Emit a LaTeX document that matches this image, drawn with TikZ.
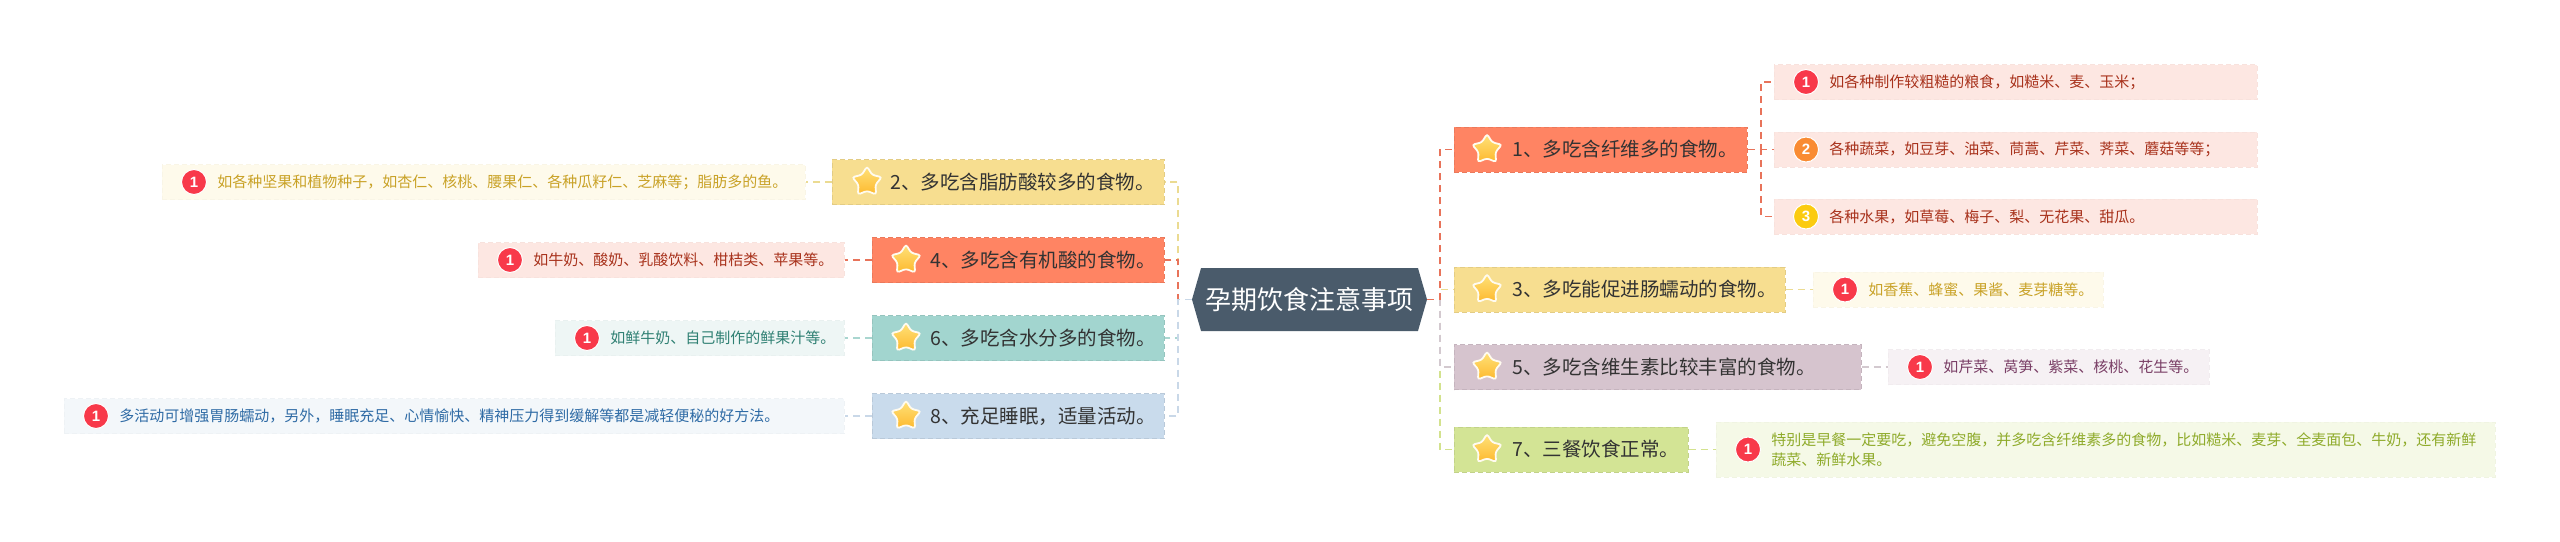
\documentclass[tikz,border=0pt]{standalone}
\usepackage{fontspec}
\setmainfont{Noto Sans CJK SC}
\newfontfamily\numfont{Liberation Sans}
\usepackage{tikz}
\usetikzlibrary{shapes.geometric,shapes.symbols,positioning}
\definecolor{rootslate}{HTML}{4A5B6B}
\definecolor{inkdark}{HTML}{333333}
\definecolor{coral}{HTML}{FF8463}
\definecolor{sand}{HTML}{F7DE90}
\definecolor{mauve}{HTML}{D6C4CE}
\definecolor{lime}{HTML}{D3E495}
\definecolor{teal}{HTML}{A2D5CF}
\definecolor{sky}{HTML}{C9DBEC}
\definecolor{coralline}{HTML}{E8735A}
\definecolor{sandline}{HTML}{EBDB92}
\definecolor{mauveline}{HTML}{D3C9CF}
\definecolor{limeline}{HTML}{D3E28E}
\definecolor{tealline}{HTML}{A9D6D0}
\definecolor{skyline}{HTML}{C9D8E8}
\definecolor{coralleaf}{HTML}{FDE7E2}
\definecolor{sandleaf}{HTML}{FEFAEB}
\definecolor{mauveleaf}{HTML}{F6F1F4}
\definecolor{limeleaf}{HTML}{F5F9E7}
\definecolor{tealleaf}{HTML}{EEF6F5}
\definecolor{skyleaf}{HTML}{F3F7FA}
\definecolor{coraltext}{HTML}{A8321C}
\definecolor{sandtext}{HTML}{C9A227}
\definecolor{mauvetext}{HTML}{7A3F66}
\definecolor{limetext}{HTML}{8FAB2B}
\definecolor{tealtext}{HTML}{2F8073}
\definecolor{skytext}{HTML}{2F6BA5}
\definecolor{badgered}{HTML}{F8394A}
\definecolor{badgeorange}{HTML}{F98B32}
\definecolor{badgeyellow}{HTML}{FBCB10}
\definecolor{startop}{HTML}{FFE27A}
\definecolor{starbottom}{HTML}{FDB92E}
\definecolor{starrim}{HTML}{FFFBEF}

\begin{document}
\begin{tikzpicture}[x=1pt, y=-1pt,
    rootnode/.style={shape=signal, signal to=east and west, signal pointer angle=148,
               fill=rootslate, text=white, inner sep=0pt, minimum width=235pt, minimum height=63pt,
               font=\fontsize{26}{30}\selectfont},
    branch/.style={rectangle, fill=#1, draw=#1!92!black, dash pattern=on 5pt off 3pt, line width=0.8pt, anchor=west,
               minimum height=45pt, inner xsep=0pt, inner ysep=0pt, align=left, text=inkdark,
               font=\fontsize{19.5}{24}\selectfont, execute at begin node={\hspace*{58pt}}},
    leaf/.style={rectangle, fill=#1, draw=#1!98!black, dash pattern=on 5pt off 3pt, line width=0.6pt, anchor=west,
               minimum height=35pt, inner xsep=0pt, inner ysep=0pt, align=left,
               font=\fontsize{15}{20}\selectfont, execute at begin node={\hspace*{55pt}}},
    staricon/.style={star, star points=5, star point ratio=1.75, rounded corners=2.5pt, draw=starrim, line width=1.8pt,
               top color=startop, bottom color=starbottom, minimum size=31pt, inner sep=0pt},
    badge/.style={circle, fill=#1, draw=white, line width=1pt, text=white, minimum size=25pt, inner sep=0pt,
               font=\numfont\bfseries\fontsize{15}{15}\selectfont},
    link/.style={draw=#1, dash pattern=on 7pt off 5pt, line width=1.8pt},
    twig/.style={draw=#1, dash pattern=on 7pt off 5pt, line width=1.2pt}
]
    \useasboundingbox (0,0) rectangle (2560,541);

    \coordinate (trunkL) at (1178,299.5);
    \coordinate (trunkR) at (1440,299.5);
    \coordinate (trunkA) at (1761,149.5);

    % right side
    \node[rootnode] (root) at (1309.5,299.5) {孕期饮食注意事项};
    \node[branch=coral, text width=293pt] (b1) at (1454,149.5) {1、多吃含纤维多的食物。};
    \node[branch=sand, text width=331pt] (b3) at (1454,289.5) {3、多吃能促进肠蠕动的食物。};
    \node[branch=mauve, text width=407pt] (b5) at (1454,367) {5、多吃含维生素比较丰富的食物。};
    \node[branch=lime, text width=234pt] (b7) at (1454,449.5) {7、三餐饮食正常。};

    \node[leaf=coralleaf, text=coraltext, text width=483pt] (l1a) at (1774,82) {如各种制作较粗糙的粮食，如糙米、麦、玉米；};
    \node[leaf=coralleaf, text=coraltext, text width=483pt] (l1b) at (1774,149.5) {各种蔬菜，如豆芽、油菜、茼蒿、芹菜、荠菜、蘑菇等等；};
    \node[leaf=coralleaf, text=coraltext, text width=483pt] (l1c) at (1774,216.5) {各种水果，如草莓、梅子、梨、无花果、甜瓜。};
    \node[leaf=sandleaf, text=sandtext, text width=290pt] (l3) at (1813,289.5) {如香蕉、蜂蜜、果酱、麦芽糖等。};
    \node[leaf=mauveleaf, text=mauvetext, text width=321pt] (l5) at (1888,367) {如芹菜、莴笋、紫菜、核桃、花生等。};
    \node[leaf=limeleaf, text=limetext, text width=779pt, minimum height=55pt] (l7) at (1716,449.5)
        {特别是早餐一定要吃，避免空腹，并多吃含纤维素多的食物，比如糙米、麦芽、全麦面包、牛奶，还有新鲜\\\hspace*{55pt}蔬菜、新鲜水果。};

    % left side
    \node[branch=sand, text width=332pt] (b2) at (832,182) {2、多吃含脂肪酸较多的食物。};
    \node[branch=coral, text width=292pt] (b4) at (872,260) {4、多吃含有机酸的食物。};
    \node[branch=teal, text width=292pt] (b6) at (872,338) {6、多吃含水分多的食物。};
    \node[branch=sky, text width=292pt] (b8) at (872,416) {8、充足睡眠，适量活动。};

    \node[leaf=sandleaf, text=sandtext, text width=643pt] (l2) at (162,182) {如各种坚果和植物种子，如杏仁、核桃、腰果仁、各种瓜籽仁、芝麻等；脂肪多的鱼。};
    \node[leaf=coralleaf, text=coraltext, text width=366pt] (l4) at (478,260) {如牛奶、酸奶、乳酸饮料、柑桔类、苹果等。};
    \node[leaf=tealleaf, text=tealtext, text width=289pt] (l6) at (555,338) {如鲜牛奶、自己制作的鲜果汁等。};
    \node[leaf=skyleaf, text=skytext, text width=780pt] (l8) at (64,416) {多活动可增强胃肠蠕动，另外，睡眠充足、心情愉快、精神压力得到缓解等都是减轻便秘的好方法。};

    % stars
    \node[staricon] (s1) at ([xshift=33pt]b1.west) {};
    \node[staricon] (s3) at ([xshift=33pt]b3.west) {};
    \node[staricon] (s5) at ([xshift=33pt]b5.west) {};
    \node[staricon] (s7) at ([xshift=33pt]b7.west) {};
    \node[staricon] (s2) at ([xshift=35pt]b2.west) {};
    \node[staricon] (s4) at ([xshift=34pt]b4.west) {};
    \node[staricon] (s6) at ([xshift=34pt]b6.west) {};
    \node[staricon] (s8) at ([xshift=34pt]b8.west) {};

    % badges
    \node[badge=badgered] (n1a) at ([xshift=32pt]l1a.west) {1};
    \node[badge=badgeorange] (n1b) at ([xshift=32pt]l1b.west) {2};
    \node[badge=badgeyellow] (n1c) at ([xshift=32pt]l1c.west) {3};
    \node[badge=badgered] (n3) at ([xshift=32pt]l3.west) {1};
    \node[badge=badgered] (n5) at ([xshift=32pt]l5.west) {1};
    \node[badge=badgered] (n7) at ([xshift=32pt]l7.west) {1};
    \node[badge=badgered] (n2) at ([xshift=32pt]l2.west) {1};
    \node[badge=badgered] (n4) at ([xshift=32pt]l4.west) {1};
    \node[badge=badgered] (n6) at ([xshift=32pt]l6.west) {1};
    \node[badge=badgered] (n8) at ([xshift=32pt]l8.west) {1};

    % connectors
    \draw[link=limeline] (root.east) -- (trunkR) |- (b7.west);
    \draw[link=mauveline] (root.east) -- (trunkR) |- (b5.west);
    \draw[link=sandline] (root.east) -- (trunkR) |- (b3.west);
    \draw[link=coralline] (root.east) -- (trunkR) |- (b1.west);
    \draw[link=sandline] (root.west) -- (trunkL) |- (b2.east);
    \draw[link=coralline] (root.west) -- (trunkL) |- (b4.east);
    \draw[link=tealline] (root.west) -- (trunkL) |- (b6.east);
    \draw[link=skyline] (root.west) -- (trunkL) |- (b8.east);

    \draw[twig=coralline] (b1.east) -- (trunkA) |- (l1a.west);
    \draw[twig=coralline] (b1.east) -- (l1b.west);
    \draw[twig=coralline] (b1.east) -- (trunkA) |- (l1c.west);
    \draw[twig=sandline] (b3.east) -- (l3.west);
    \draw[twig=mauveline] (b5.east) -- (l5.west);
    \draw[twig=limeline] (b7.east) -- (l7.west);
    \draw[twig=sandline] (b2.west) -- (l2.east);
    \draw[twig=coralline] (b4.west) -- (l4.east);
    \draw[twig=tealline] (b6.west) -- (l6.east);
    \draw[twig=skyline] (b8.west) -- (l8.east);
\end{tikzpicture}
\end{document}
